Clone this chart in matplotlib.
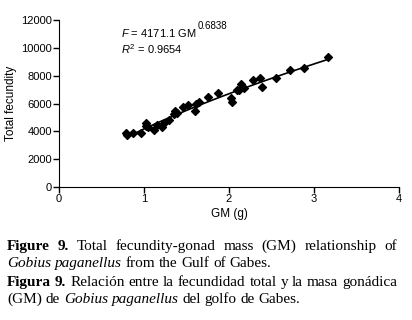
import numpy as np
import matplotlib
matplotlib.use("Agg")
import matplotlib.pyplot as plt

# --- Data ---
gm = [0.79, 0.80, 0.87, 0.97, 1.02, 1.02, 1.05, 1.12, 1.15, 1.21, 1.23, 1.29,
      1.35, 1.36, 1.39, 1.46, 1.52, 1.60, 1.61, 1.65, 1.75, 1.87, 2.02, 2.03,
      2.09, 2.12, 2.14, 2.18, 2.28, 2.37, 2.39, 2.55, 2.72, 2.88, 3.17]
fecundity = [3900, 3750, 3850, 3900, 4600, 4400, 4330, 4100, 4450, 4330, 4620, 4810,
             5240, 5460, 5340, 5770, 5870, 5480, 5960, 6130, 6490, 6750, 6370, 6130,
             6970, 6970, 7380, 7090, 7690, 7850, 7200, 7810, 8400, 8570, 9310]
fit_a, fit_b = 4171.1, 0.6838
fit_range = (0.80, 3.17)
x_ticks = [0, 1, 2, 3, 4]
y_ticks = [0, 2000, 4000, 6000, 8000, 10000, 12000]

plt.rcParams["font.family"] = ["Liberation Sans", "DejaVu Sans"]
plt.rcParams["mathtext.fontset"] = "custom"
plt.rcParams["mathtext.rm"] = "Liberation Sans"
plt.rcParams["mathtext.it"] = "Liberation Sans:italic"

W, H = 412, 320
fig = plt.figure(figsize=(W / 100, H / 100), dpi=100)
ax = fig.add_axes([59 / W, 1 - 187 / H, 340 / W, 167 / H])
renderer = fig.canvas.get_renderer()

ax.scatter(gm, fecundity, marker="D", s=16, color="black", zorder=3)
xf = np.linspace(fit_range[0], fit_range[1], 100)
ax.plot(xf, fit_a * xf ** fit_b, color="black", lw=1.2)

ax.set_xlim(0, 4)
ax.set_ylim(0, 12000)
ax.set_xticks(x_ticks)
ax.set_yticks(y_ticks)
ax.tick_params(labelsize=8, length=4, width=1, pad=1)
for s in ["top", "right"]:
    ax.spines[s].set_visible(False)
ax.set_xlabel("GM (g)", fontsize=8.5, labelpad=3)
ax.set_ylabel("Total fecundity", fontsize=8.5, labelpad=3)

# equation with a separate, slightly raised exponent
eq = ax.text(0.73, 10780, r"$\it{F}$ = 4171.1 GM", fontsize=8, va="baseline")
bb = eq.get_window_extent(renderer)
fig.text((bb.x1 + 1) / W, (bb.y0 + 10) / H, f"{fit_b}", fontsize=7, va="baseline")
ax.text(0.73, 9550, r"$\it{R}^2$ = 0.9654", fontsize=8, va="baseline")

# --- Caption (justified lines built word by word) ---
serif = ["Liberation Serif", "DejaVu Serif"]
cap_size = 11


def caption_line(words, y, justify):
    x0, x1 = 7 / W, 397 / W
    texts = []
    for word, style in words:
        t = fig.text(0, y, word, fontsize=cap_size, family=serif,
                     weight="bold" if style == "b" else "normal",
                     style="italic" if style == "i" else "normal", va="baseline")
        texts.append(t)
    widths = [t.get_window_extent(renderer).width / W for t in texts]
    if justify:
        gap = (x1 - x0 - sum(widths)) / (len(words) - 1)
    else:
        gap = cap_size * 0.25 * 100 / 72 / W
    x = x0
    for t, w in zip(texts, widths):
        t.set_x(x)
        x += w + gap


line1 = [("Figure", "b"), ("9.", "b"), ("Total", ""), ("fecundity-gonad", ""), ("mass", ""),
         ("(GM)", ""), ("relationship", ""), ("of", "")]
line2 = [("Gobius", "i"), ("paganellus", "i"), ("from", ""), ("the", ""), ("Gulf", ""),
         ("of", ""), ("Gabes.", "")]
line3 = [("Figura", "b"), ("9.", "b"), ("Relación", ""), ("entre", ""), ("la", ""),
         ("fecundidad", ""), ("total", ""), ("y", ""), ("la", ""), ("masa", ""), ("gonádica", "")]
line4 = [("(GM)", ""), ("de", ""), ("Gobius", "i"), ("paganellus", "i"), ("del", ""),
         ("golfo", ""), ("de", ""), ("Gabes.", "")]

caption_line(line1, 1 - 250 / H, True)
caption_line(line2, 1 - 267 / H, False)
caption_line(line3, 1 - 286 / H, True)
caption_line(line4, 1 - 303 / H, False)

fig.savefig("out.png", dpi=100)
